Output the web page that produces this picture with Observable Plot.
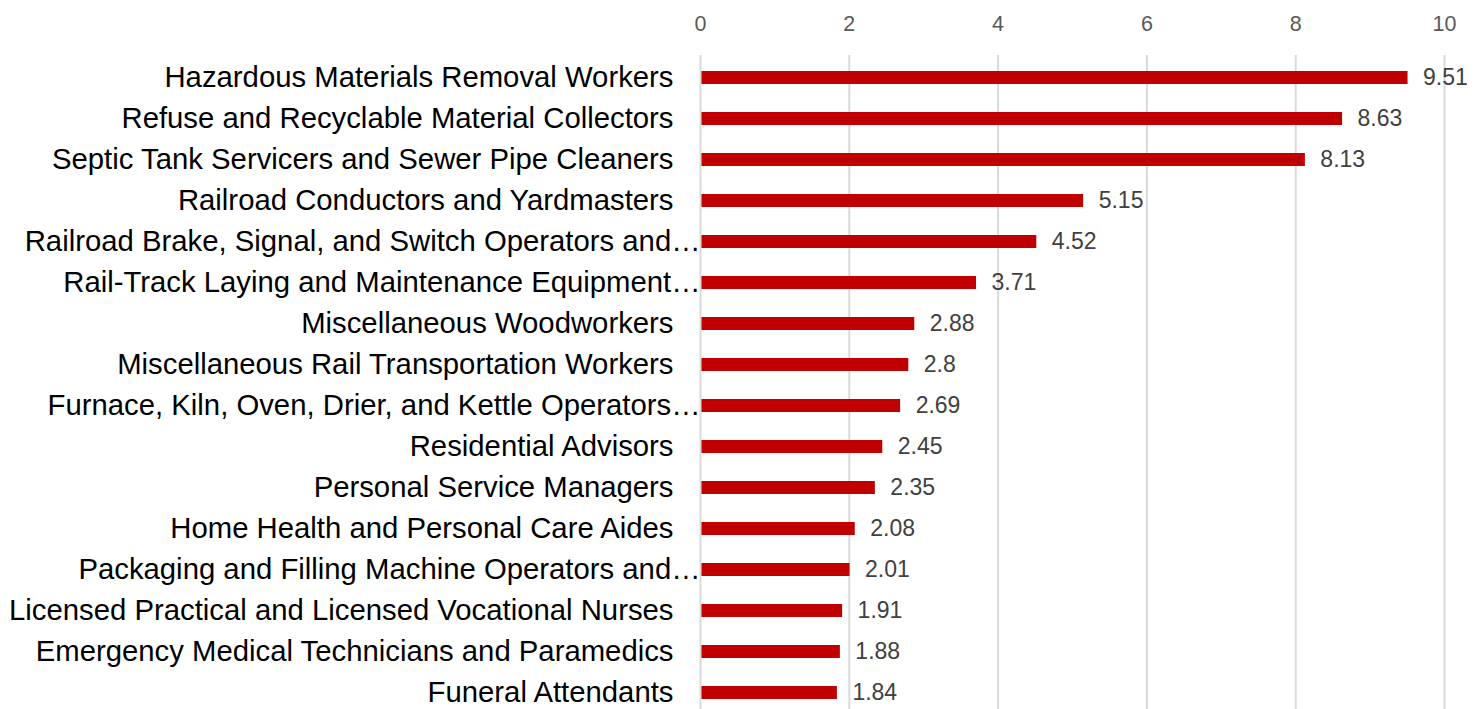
<!DOCTYPE html>
<html>
<head>
<meta charset="utf-8">
<script src="https://cdn.jsdelivr.net/npm/d3@7"></script>
<script src="https://cdn.jsdelivr.net/npm/@observablehq/plot@0.6"></script>
<style>
  html, body { margin: 0; padding: 0; background: #fff; overflow: hidden; }
  #chart svg { display: block; }
</style>
</head>
<body>
<div id="chart"></div>
<script>
const occupations = [
  "Hazardous Materials Removal Workers",
  "Refuse and Recyclable Material Collectors",
  "Septic Tank Servicers and Sewer Pipe Cleaners",
  "Railroad Conductors and Yardmasters",
  "Railroad Brake, Signal, and Switch Operators and…",
  "Rail-Track Laying and Maintenance Equipment…",
  "Miscellaneous Woodworkers",
  "Miscellaneous Rail Transportation Workers",
  "Furnace, Kiln, Oven, Drier, and Kettle Operators…",
  "Residential Advisors",
  "Personal Service Managers",
  "Home Health and Personal Care Aides",
  "Packaging and Filling Machine Operators and…",
  "Licensed Practical and Licensed Vocational Nurses",
  "Emergency Medical Technicians and Paramedics",
  "Funeral Attendants"
];
const values = [9.51, 8.63, 8.13, 5.15, 4.52, 3.71, 2.88, 2.8, 2.69, 2.45, 2.35, 2.08, 2.01, 1.91, 1.88, 1.84];
const xTicks = [0, 2, 4, 6, 8, 10];

const data = occupations.map((name, i) => ({name, value: values[i]}));
const full = data.filter(d => !d.name.endsWith("…"));
const truncated = data.filter(d => d.name.endsWith("…"));

const font = "'Liberation Sans', Arial, sans-serif";

const chart = Plot.plot({
  width: 1478,
  height: 709,
  marginLeft: 700,
  marginRight: 34,
  marginTop: 55,
  marginBottom: 0,
  style: {fontFamily: font, background: "#fff"},
  x: {domain: [0, 10], ticks: xTicks, label: null},
  y: {domain: occupations, range: [54, 715], paddingInner: 0.69, paddingOuter: 0.345, axis: null, label: null},
  marks: [
    Plot.gridX(xTicks, {stroke: "#d9d9d9", strokeOpacity: 1, strokeWidth: 2}),
    Plot.axisX(xTicks, {anchor: "top", label: null, tickSize: 0, tickPadding: 25, fontSize: 21.5, fill: "#595959", tickFormat: d => String(d)}),
    Plot.barX(data, {x1: 0.02, x2: "value", y: "name", fill: "#c00000"}),
    Plot.text(data, {x: "value", y: "name", text: d => String(d.value), textAnchor: "start", dx: 15, fontSize: 23, fill: "#404040"}),
    Plot.text(full, {x: 0, y: "name", text: "name", textAnchor: "end", dx: -27, fontSize: 29.3, fill: "#000"}),
    Plot.text(truncated, {x: 0, y: "name", text: "name", textAnchor: "end", dx: 0, fontSize: 29.3, fill: "#000"})
  ]
});
document.getElementById("chart").appendChild(chart);
</script>
</body>
</html>
